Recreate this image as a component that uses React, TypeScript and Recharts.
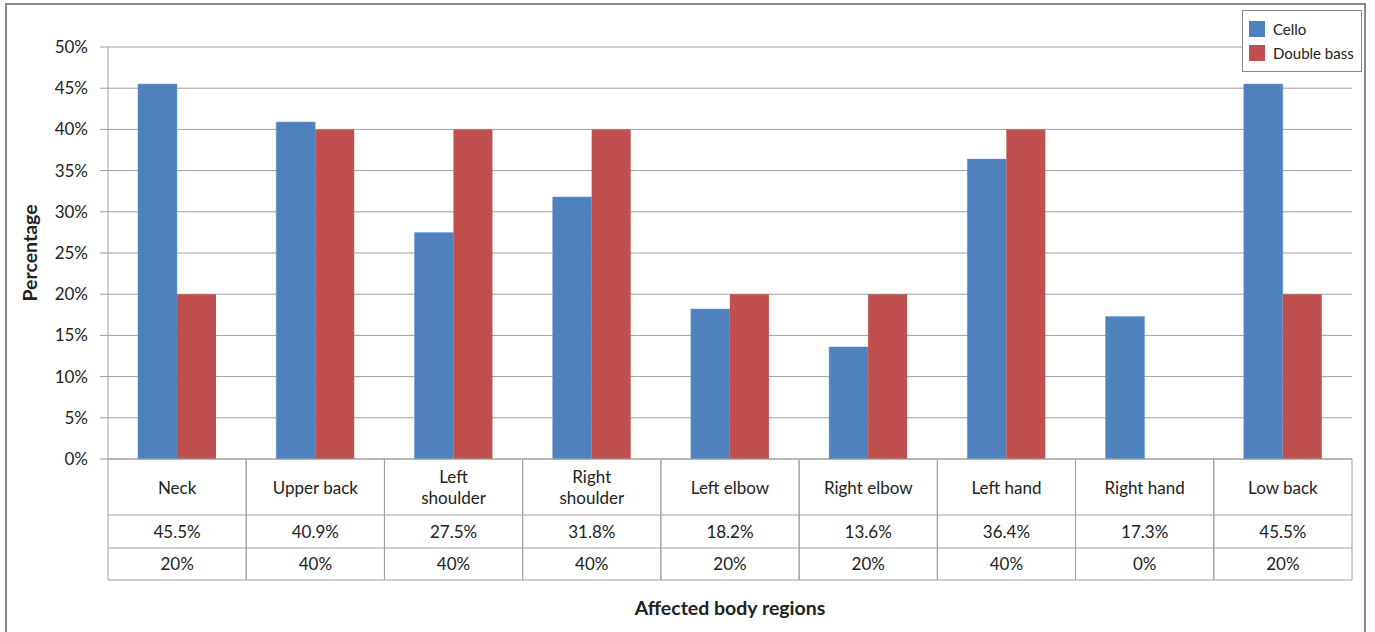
import { BarChart, Bar, XAxis, YAxis, CartesianGrid, Legend } from "recharts";

const regions = [
  "Neck",
  "Upper back",
  "Left\nshoulder",
  "Right\nshoulder",
  "Left elbow",
  "Right elbow",
  "Left hand",
  "Right hand",
  "Low back",
];
const cello = [45.5, 40.9, 27.5, 31.8, 18.2, 13.6, 36.4, 17.3, 45.5];
const doubleBass = [20, 40, 40, 40, 20, 20, 40, 0, 20];
const yTicks = [0, 5, 10, 15, 20, 25, 30, 35, 40, 45, 50];

const CELLO = "#4F81BD";
const BASS = "#C0504D";
const LINE = "#a0a0a0";
const FONT = "Lato, 'Open Sans', sans-serif";

const data = regions.map((name, i) => ({ name, cello: cello[i], bass: doubleBass[i] }));

// data table under the plot, one column per tick
const TableTick = (props: any) => {
  const { x, y, payload, index } = props;
  const half = payload.offset || 1244 / 9 / 2;
  const lines = String(payload.value).split("\n");
  const left = x - half;
  const right = x + half;
  return (
    <g fontFamily={FONT} fontSize={17} fill="#222">
      <line x1={left} y1={y} x2={left} y2={y + 121} stroke={LINE} />
      <line x1={right} y1={y} x2={right} y2={y + 121} stroke={LINE} />
      <line x1={left} y1={y + 56} x2={right} y2={y + 56} stroke={LINE} />
      <line x1={left} y1={y + 89} x2={right} y2={y + 89} stroke={LINE} />
      <line x1={left} y1={y + 121} x2={right} y2={y + 121} stroke={LINE} />
      {lines.map((t, k) => (
        <text
          key={k}
          x={x}
          y={y + 28 + (k - (lines.length - 1) / 2) * 21}
          textAnchor="middle"
          dominantBaseline="central"
        >
          {t}
        </text>
      ))}
      <text x={x} y={y + 72} textAnchor="middle" dominantBaseline="central">
        {cello[index]}%
      </text>
      <text x={x} y={y + 104} textAnchor="middle" dominantBaseline="central">
        {doubleBass[index]}%
      </text>
    </g>
  );
};

const LegendBox = () => (
  <div
    style={{
      border: "1px solid #888",
      background: "#fff",
      padding: "6px 6px 6px 6px",
      fontFamily: FONT,
      fontSize: 15,
      color: "#222",
    }}
  >
    {[
      ["Cello", CELLO],
      ["Double bass", BASS],
    ].map(([label, color]) => (
      <div key={label} style={{ display: "flex", alignItems: "center", height: 24 }}>
        <span style={{ width: 16, height: 16, background: color, marginRight: 8, display: "inline-block" }} />
        {label}
      </div>
    ))}
  </div>
);

export default function App() {
  return (
    <div style={{ position: "absolute", left: 0, top: 0, width: 1375, height: 632, background: "#fff" }}>
      <div
        style={{
          position: "absolute",
          left: 5,
          top: 3,
          width: 1361,
          height: 660,
          border: "2px solid #8a8a8a",
          boxSizing: "border-box",
        }}
      />
      <BarChart
        width={1375}
        height={632}
        data={data}
        margin={{ top: 47, right: 23, bottom: 0, left: 0 }}
        barCategoryGap="21.7%"
        barGap={0}
      >
        <CartesianGrid vertical={false} stroke={LINE} />
        <YAxis
          width={108}
          domain={[0, 50]}
          ticks={yTicks}
          tickFormatter={(v) => `${v}%`}
          tick={{ fontFamily: FONT, fontSize: 17, fill: "#222" }}
          tickSize={8}
          tickMargin={12}
          stroke={LINE}
          interval={0}
          label={{
            value: "Percentage",
            angle: -90,
            position: "insideLeft",
            offset: 30,
            style: { textAnchor: "middle", fontFamily: FONT, fontSize: 19.5, fontWeight: 700, fill: "#222" },
          }}
        />
        <XAxis
          dataKey="name"
          height={173}
          tickSize={0}
          tickMargin={0}
          tickLine={false}
          stroke={LINE}
          interval={0}
          tick={<TableTick />}
          label={{
            value: "Affected body regions",
            position: "insideBottom",
            offset: 17,
            style: { fontFamily: FONT, fontSize: 19.5, fontWeight: 700, fill: "#222" },
          }}
        />
        <Legend
          layout="vertical"
          align="center"
          verticalAlign="middle"
          wrapperStyle={{ left: 1242, top: 10, width: 120 }}
          content={<LegendBox />}
        />
        <Bar dataKey="cello" name="Cello" fill={CELLO} stroke="#6f9bd1" strokeWidth={0.5} isAnimationActive={false} />
        <Bar dataKey="bass" name="Double bass" fill={BASS} isAnimationActive={false} />
      </BarChart>
    </div>
  );
}
